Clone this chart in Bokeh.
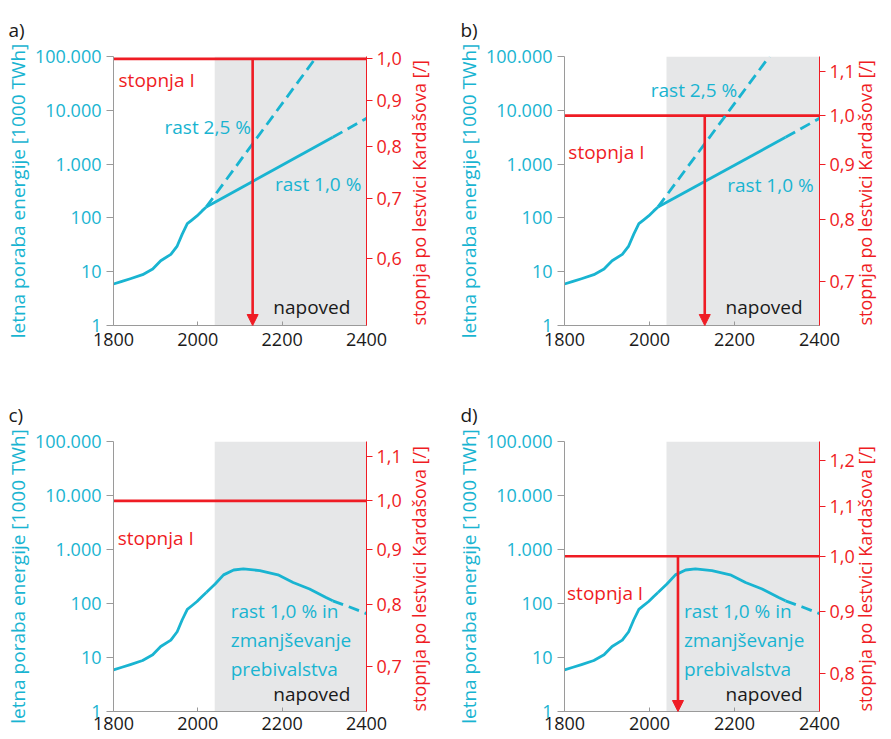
import math
from bokeh.plotting import figure
from bokeh.models import Range1d, LinearAxis, FixedTicker, CustomJSTickFormatter, Arrow, NormalHead
from bokeh.layouts import column, row
from bokeh.embed import file_html
from bokeh.resources import INLINE
from bokeh.core.properties import value

# ---------------- data ----------------
panel_letters = ["a)", "b)", "c)", "d)"]
x_ticks = [1800, 2000, 2200, 2400]
x_tick_labels = ["1800", "2000", "2200", "2400"]
energy_ticks = [1, 10, 100, 1000, 10000, 100000]
energy_tick_labels = ["1", "10", "100", "1.000", "10.000", "100.000"]
kard_ticks = [0.5, 0.6, 0.7, 0.8, 0.9, 1.0, 1.1, 1.2, 1.3]
kard_tick_labels = ["0,5", "0,6", "0,7", "0,8", "0,9", "1,0", "1,1", "1,2", "1,3"]
# Kardashev value at the bottom (1) and top (100.000) of the energy axis, per panel
kard_ranges = [(0.506, 1.006), (0.636, 1.136), (0.636, 1.136), (0.744, 1.244)]
level_one = 1.0
arrow_years = [2130, 2130, None, 2067]
forecast_span = [2040, 2400]

hist_years = [1800, 1820, 1840, 1869, 1893, 1912, 1936, 1951, 1963, 1975, 1985, 1998, 2010, 2020]
hist_energy = [5.9, 6.6, 7.4, 8.8, 11.2, 16, 21, 30, 50, 78, 90, 109, 135, 160]

g10_solid_years = [2020, 2320]
g10_solid_energy = [160, 3150]
g10_dash_years = [2320, 2400]
g10_dash_energy = [3150, 7100]
g25_years = [2020, 2282]
g25_energy = [160, 100000]

decl_years = [2020, 2041, 2061, 2085, 2108, 2147, 2190, 2226, 2265, 2304, 2320]
decl_energy = [160, 229, 339, 417, 437, 407, 339, 245, 186, 129, 112]
decl_dash_years = [2320, 2360, 2400]
decl_dash_energy = [112, 86, 65]

left_axis_title = "letna poraba energije [1000 TWh]"
right_axis_title = "stopnja po lestvici Kardašova [/]"

# annotation texts per panel: (x, y, text, colour)
texts = [
    [(1812, 37000, "stopnja I", "red"), (1921, 4900, "rast 2,5 %", "cyan"),
     (2183, 420, "rast 1,0 %", "cyan"), (2179, 2.2, "napoved", "black")],
    [(1809, 1700, "stopnja I", "red"), (2003, 24000, "rast 2,5 %", "cyan"),
     (2183, 410, "rast 1,0 %", "cyan"), (2179, 2.2, "napoved", "black")],
    [(1810, 1660, "stopnja I", "red"), (2078, 21, "rast 1,0 % in\nzmanjševanje\nprebivalstva", "cyan"),
     (2179, 2.1, "napoved", "black")],
    [(1806, 158, "stopnja I", "red"), (2081, 21, "rast 1,0 % in\nzmanjševanje\nprebivalstva", "cyan"),
     (2179, 2.1, "napoved", "black")],
]

# ---------------- style ----------------
CYAN = "#19b4d1"
RED = "#ef1c24"
GRAY_FILL = "#e6e7e8"
AXIS_GRAY = "#9a9a9a"
FONT = "Open Sans"
COLORS = {"red": RED, "cyan": CYAN, "black": "#1a1a1a"}

lookup_js = """
let best = 0;
for (let i = 0; i < vals.length; i++) {
  if (Math.abs(vals[i] - tick) < Math.abs(vals[best] - tick)) best = i;
}
return labs[best];
"""
lookup_log_js = """
let best = 0;
const lt = Math.log10(tick);
for (let i = 0; i < vals.length; i++) {
  if (Math.abs(Math.log10(vals[i]) - lt) < Math.abs(Math.log10(vals[best]) - lt)) best = i;
}
return labs[best];
"""


def make_panel(i):
    first_col = i % 2 == 0
    top_row = i < 2
    width = 445 if first_col else 446
    height = 370 if top_row else 369
    bl = 113 if first_col else 119
    br = 78 if first_col else 71
    bt = 55 if top_row else 71
    bb = 45 if top_row else 28
    p = figure(width=width, height=height,
               x_range=Range1d(1800, 2400), y_range=Range1d(1, 100000),
               y_axis_type="log", output_backend="svg", toolbar_location=None,
               min_border_left=bl, min_border_right=br,
               min_border_top=bt, min_border_bottom=bb)
    p.outline_line_color = None
    p.grid.visible = False
    p.background_fill_color = "white"
    p.border_fill_color = "white"

    p.extra_y_ranges = {"k": Range1d(*kard_ranges[i])}

    # x axis
    xa = p.xaxis[0]
    xa.ticker = FixedTicker(ticks=x_ticks)
    xa.formatter = CustomJSTickFormatter(args=dict(vals=x_ticks, labs=x_tick_labels), code=lookup_js)
    xa.axis_line_color = AXIS_GRAY
    xa.major_tick_line_color = AXIS_GRAY
    xa.major_tick_in = 4
    xa.major_tick_out = 0
    xa.minor_tick_line_color = None
    xa.major_label_text_font = FONT
    xa.major_label_text_font_size = "18px"
    xa.major_label_text_color = "#1a1a1a"
    xa.major_label_standoff = 7 if top_row else 5

    # left (energy) axis
    ya = p.yaxis[0]
    ya.ticker = FixedTicker(ticks=energy_ticks)
    ya.formatter = CustomJSTickFormatter(args=dict(vals=energy_ticks, labs=energy_tick_labels),
                                         code=lookup_log_js)
    ya.axis_line_color = AXIS_GRAY
    ya.major_tick_line_color = AXIS_GRAY
    ya.major_tick_in = 0
    ya.major_tick_out = 7
    ya.minor_tick_line_color = None
    ya.major_label_text_font = FONT
    ya.major_label_text_font_size = "18px"
    ya.major_label_text_color = CYAN
    ya.major_label_standoff = 5
    ya.axis_label = left_axis_title
    ya.axis_label_text_font = FONT
    ya.axis_label_text_font_size = "19px"
    ya.axis_label_text_font_style = "normal"
    ya.axis_label_text_color = CYAN
    ya.axis_label_standoff = 1

    # right (Kardashev) axis
    ra = LinearAxis(y_range_name="k")
    ra.ticker = FixedTicker(ticks=kard_ticks)
    ra.formatter = CustomJSTickFormatter(args=dict(vals=kard_ticks, labs=kard_tick_labels), code=lookup_js)
    ra.axis_line_color = RED
    ra.major_tick_line_color = RED
    ra.major_tick_in = 0
    ra.major_tick_out = 6
    ra.minor_tick_line_color = None
    ra.major_label_text_font = FONT
    ra.major_label_text_font_size = "18px"
    ra.major_label_text_color = RED
    ra.major_label_standoff = 4
    ra.axis_label = right_axis_title
    ra.axis_label_text_font = FONT
    ra.axis_label_text_font_size = "18px"
    ra.axis_label_text_font_style = "normal"
    ra.axis_label_text_color = RED
    ra.axis_label_standoff = 14 if first_col else 7
    ra.axis_label_orientation = math.pi / 2   # reads bottom-to-top
    ra.axis_label_align = "start"
    p.add_layout(ra, "right")

    # forecast shading
    p.quad(left=[forecast_span[0]], right=[forecast_span[1]], bottom=[energy_ticks[0]],
           top=[energy_ticks[-1]], fill_color=GRAY_FILL, line_color=None)

    # level I line
    p.line(x=[x_ticks[0], x_ticks[-1]], y=[level_one, level_one], y_range_name="k",
           line_color=RED, line_width=2.6)

    lw = 2.8
    p.line(hist_years, hist_energy, line_color=CYAN, line_width=lw, line_join="round")
    if i < 2:
        p.line(g10_solid_years, g10_solid_energy, line_color=CYAN, line_width=lw)
        p.line(g10_dash_years, g10_dash_energy, line_color=CYAN, line_width=lw, line_dash="11 6")
        p.line(g25_years, g25_energy, line_color=CYAN, line_width=lw, line_dash="11 6")
    else:
        p.line(decl_years, decl_energy, line_color=CYAN, line_width=lw, line_join="round")
        p.line(decl_dash_years, decl_dash_energy, line_color=CYAN, line_width=lw, line_dash="11 6")

    if arrow_years[i] is not None:
        p.add_layout(Arrow(end=NormalHead(size=11, fill_color=RED, line_color=RED),
                           x_start=arrow_years[i], y_start=level_one,
                           x_end=arrow_years[i], y_end=kard_ranges[i][0],
                           y_range_name="k", line_color=RED, line_width=2.6))

    for (tx, ty, tt, tc) in texts[i]:
        p.text(x=[tx], y=[ty], text=[tt], text_font=value(FONT), text_font_size="19px",
               text_color=COLORS[tc], text_align="left", text_baseline="middle",
               text_line_height=1.12)

    p.title.text = panel_letters[i]
    p.title.text_font = FONT
    p.title.text_font_size = "19px"
    p.title.text_font_style = "normal"
    p.title.text_color = "#1a1a1a"
    p.title.align = "left"
    p.title.offset = -bl + (8 if first_col else 15)
    p.title.standoff = 28
    return p


panels = [make_panel(i) for i in range(4)]
layout = column(row(panels[0], panels[1]), row(panels[2], panels[3]))
open("out.html", "w").write(file_html(layout, INLINE))
